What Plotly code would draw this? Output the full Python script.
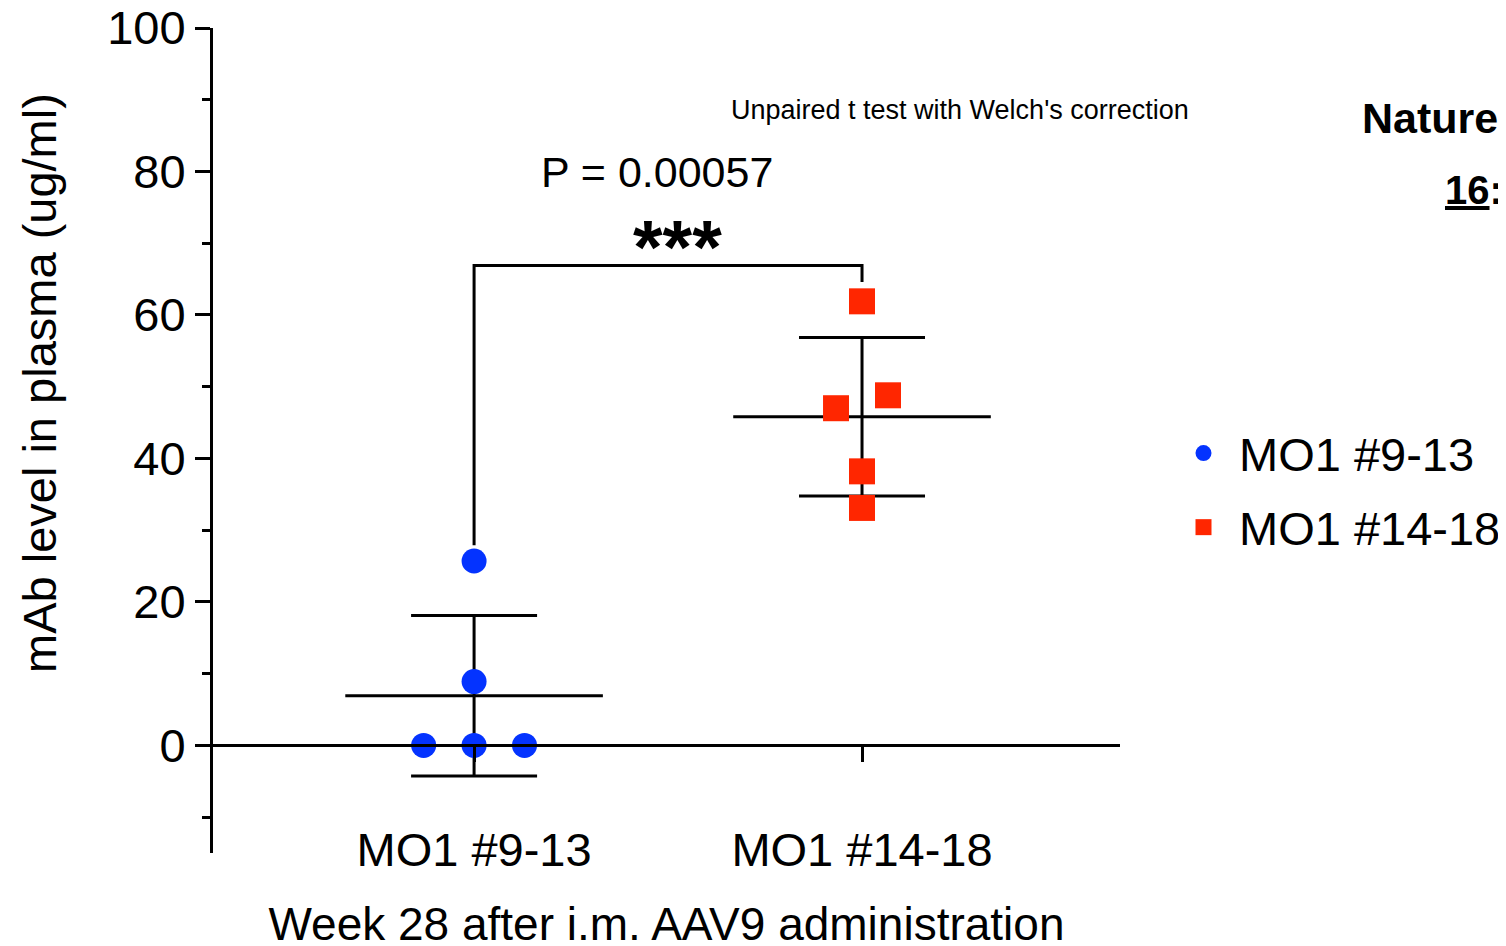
import numpy as np
import plotly.graph_objects as go

# ---- data ----
categories = ["MO1 #9-13", "MO1 #14-18"]
group1_values = [25.7, 8.9, 0.0, 0.0, 0.0]
group2_values = [61.9, 48.8, 47.0, 38.2, 33.1]
group1_jitter = [0.0, 0.0, -0.13, 0.0, 0.13]
group2_jitter = [0.0, 0.067, -0.067, 0.0, 0.0]
y_tick_values = [0, 20, 40, 60, 80, 100]
p_value_text = "P = 0.00057"
stars_text = "***"
test_text = "Unpaired t test with Welch's correction"
y_title = "mAb level in plasma (ug/ml)"
x_title = "Week 28 after i.m. AAV9 administration"

BLUE = "#0433ff"
RED = "#ff2600"
FONT = "Arial, Liberation Sans, sans-serif"
LW = 3
MEAN_HALF = 0.332

groups = [group1_values, group2_values]
jitters = [group1_jitter, group2_jitter]
colors = [BLUE, RED]
symbols = ["circle", "square"]
sizes = [25, 26]

fig = go.Figure()

# mean and SD lines
for i, vals in enumerate(groups):
    m = float(np.mean(vals))
    sd = float(np.std(vals, ddof=1))
    fig.add_trace(go.Scatter(
        x=[i - MEAN_HALF, i + MEAN_HALF], y=[m, m], mode="lines",
        line=dict(color="black", width=LW), showlegend=False, hoverinfo="skip"))
    fig.add_trace(go.Scatter(
        x=[i], y=[m], mode="markers", marker=dict(size=1, color="rgba(0,0,0,0)"),
        error_y=dict(type="data", array=[sd], visible=True, color="black",
                     thickness=LW, width=63),
        showlegend=False, hoverinfo="skip"))

# points
for i, vals in enumerate(groups):
    fig.add_trace(go.Scatter(
        x=[i + j for j in jitters[i]], y=vals, mode="markers",
        name=categories[i], legendgroup=f"g{i}",
        marker=dict(symbol=symbols[i], size=sizes[i], color=colors[i], line=dict(width=0))))

# significance bracket (derived from data)
top = max(group2_values) + 5
left_bottom = max(group1_values) + 2.2
right_bottom = max(group2_values) + 2.7
fig.add_shape(type="path",
              path=f"M 0,{left_bottom} L 0,{top} L 1,{top} L 1,{right_bottom}",
              xref="x", yref="y", line=dict(color="black", width=LW))

# page pixel -> paper fraction (plot area spans x 213..1120, y 28..853 on the page)
def px_x(px):
    return (px - 213) / 907


def px_y(py):
    return (853 - py) / 825


def note(text, x, y, size, xanchor="center", bold=False, angle=0):
    fig.add_annotation(text=f"<b>{text}</b>" if bold else text,
                       x=px_x(x), y=px_y(y), xref="paper", yref="paper",
                       xanchor=xanchor, yanchor="middle", textangle=angle,
                       showarrow=False, font=dict(size=size, family=FONT, color="black"))


note(stars_text, 677, 246, 76, bold=True)
note(p_value_text, 657, 172, 43)
note(test_text, 960, 110, 27)
note("Nature", 1360, 118, 43, xanchor="left", bold=True)
note("<u>16</u>:", 1443, 190, 40, xanchor="left", bold=True)
note(y_title, 39, 383, 47, angle=-90)

fig.update_layout(
    width=1506, height=946,
    margin=dict(l=205, r=394, t=20, b=101, autoexpand=False),
    paper_bgcolor="white", plot_bgcolor="white",
    font=dict(family=FONT, size=47, color="black"),
    showlegend=True,
    legend=dict(x=px_x(1168), y=px_y(416), xanchor="left", yanchor="top",
                font=dict(size=47, family=FONT), tracegroupgap=10,
                itemsizing="trace", itemwidth=61, bgcolor="rgba(0,0,0,0)"),
    xaxis=dict(range=[-0.673, 1.665], anchor="free", position=15 / 115,
               tickvals=[0, 1], ticktext=categories,
               showline=True, linecolor="black", linewidth=LW,
               ticks="outside", ticklen=15, tickwidth=LW, tickcolor="black",
               ticklabelstandoff=47, automargin=False, ticklabeloverflow="allow",
               showgrid=False, zeroline=False,
               title=dict(text=x_title, font=dict(size=46, family=FONT), standoff=33)),
    yaxis=dict(range=[-15, 100], tickvals=y_tick_values, automargin=False,
               ticklabeloverflow="allow",
               showline=True, linecolor="black", linewidth=LW,
               ticks="outside", ticklen=15, tickwidth=LW, tickcolor="black",
               minor=dict(dtick=10, ticks="outside", ticklen=8, tickwidth=LW, tickcolor="black"),
               showgrid=False, zeroline=False),
)

fig.write_html("out.html")
